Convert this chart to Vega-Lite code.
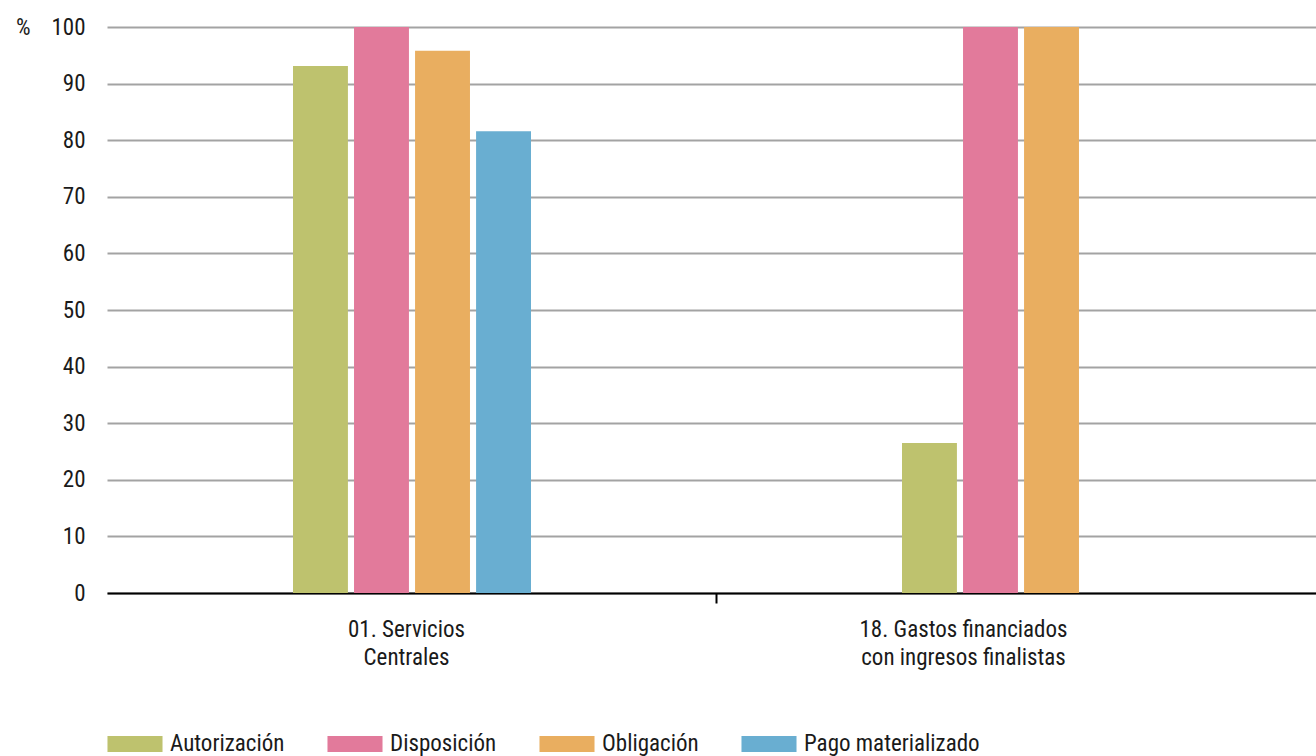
{
  "$schema": "https://vega.github.io/schema/vega-lite/v6.json",
  "width": 1209,
  "height": 566,
  "autosize": {"type": "none"},
  "padding": {"left": 107, "top": 27, "right": 0, "bottom": 163},
  "background": "white",
  "config": {
    "view": {"stroke": null},
    "font": "Roboto Condensed, Roboto, sans-serif"
  },
  "data": {
    "values": [
      {"cat": "01. Servicios|Centrales", "serie": "Autorización", "v": 93.1},
      {"cat": "01. Servicios|Centrales", "serie": "Disposición", "v": 100},
      {"cat": "01. Servicios|Centrales", "serie": "Obligación", "v": 95.8},
      {"cat": "01. Servicios|Centrales", "serie": "Pago materializado", "v": 81.6},
      {"cat": "18. Gastos financiados|con ingresos finalistas", "serie": "Autorización", "v": 26.5},
      {"cat": "18. Gastos financiados|con ingresos finalistas", "serie": "Disposición", "v": 100},
      {"cat": "18. Gastos financiados|con ingresos finalistas", "serie": "Obligación", "v": 100},
      {"cat": "18. Gastos financiados|con ingresos finalistas", "serie": "Pago materializado", "v": 0}
    ]
  },
  "mark": {"type": "bar"},
  "encoding": {
    "x": {
      "field": "cat",
      "type": "nominal",
      "sort": null,
      "scale": {"range": [0, 1218], "paddingInner": 0, "paddingOuter": 0},
      "axis": {
        "title": null,
        "labelAngle": 0,
        "labelExpr": "split(datum.label, '|')",
        "labelFontSize": 23,
        "labelLimit": 500,
        "labelColor": "#1a1a1a",
        "labelLineHeight": 28,
        "labelPadding": 15,
        "labelBaseline": "top",
        "domainColor": "#000000",
        "domainWidth": 2,
        "tickColor": "#000000",
        "tickWidth": 2,
        "tickSize": 10,
        "tickOffset": 304.5,
        "labelOffset": {
          "condition": {"test": "indexof(datum.value, '18.') == 0", "value": -362},
          "value": -310
        },
        "grid": false
      }
    },
    "xOffset": {
      "field": "serie",
      "type": "nominal",
      "scale": {"range": [186, 424], "paddingInner": 0.1, "paddingOuter": 0}
    },
    "y": {
      "field": "v",
      "type": "quantitative",
      "scale": {"domain": [0, 100], "nice": false},
      "axis": {
        "values": [0, 10, 20, 30, 40, 50, 60, 70, 80, 90, 100],
        "title": "%",
        "titleAngle": 0,
        "titleX": -77,
        "titleY": 0,
        "titleAlign": "right",
        "titleBaseline": "middle",
        "titleFontSize": 23,
        "titleFontWeight": "normal",
        "titleColor": "#1a1a1a",
        "labelFontSize": 23,
        "labelColor": "#1a1a1a",
        "labelPadding": 22,
        "ticks": false,
        "domain": false,
        "gridColor": "#a3a3a3",
        "gridWidth": 2
      }
    },
    "color": {
      "field": "serie",
      "type": "nominal",
      "scale": {
        "domain": ["Autorización", "Disposición", "Obligación", "Pago materializado"],
        "range": ["#BEC26E", "#E27A9B", "#E9AE60", "#69AED1"]
      },
      "legend": {
        "title": null,
        "orient": "none",
        "direction": "horizontal",
        "legendX": 12,
        "legendY": 701,
        "symbolType": "M-1.72,-0.5H1.72V0.5H-1.72Z",
        "symbolSize": 1024,
        "symbolStrokeWidth": 0,
        "labelFontSize": 23,
        "labelLimit": 400,
        "labelColor": "#1a1a1a",
        "labelOffset": 19,
        "columnPadding": 42,
        "symbolOpacity": 1
      }
    }
  }
}
